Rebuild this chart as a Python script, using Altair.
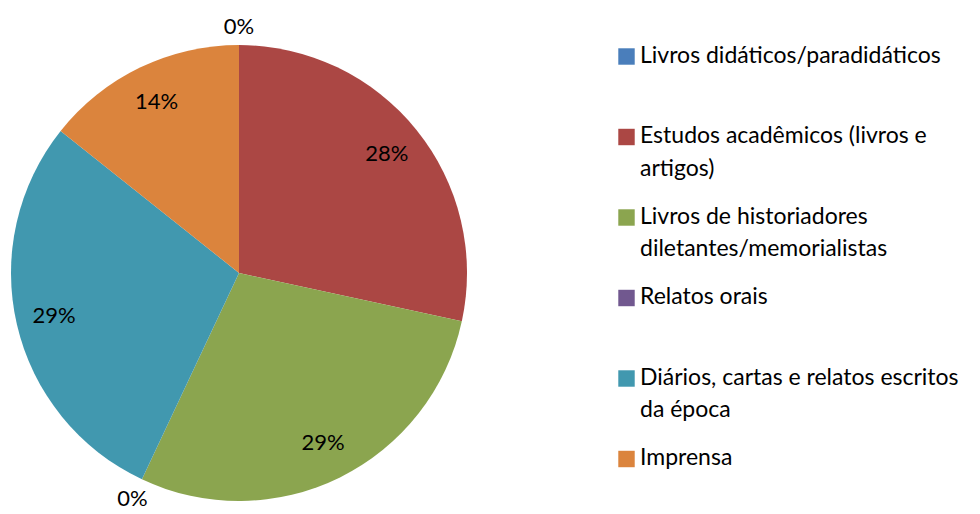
import math
import altair as alt
import pandas as pd

categories = [
    "Livros didáticos/paradidáticos",
    "Estudos acadêmicos (livros e artigos)",
    "Livros de historiadores diletantes/memorialistas",
    "Relatos orais",
    "Diários, cartas e relatos escritos da época",
    "Imprensa",
]
values = [0, 28.4, 28.6, 0, 28.7, 14.3]
colors = ["#4A7EBB", "#AB4744", "#8BA54F", "#71588F", "#4198AF", "#DB843D"]
legend_lines = [
    ["Livros didáticos/paradidáticos"],
    ["Estudos acadêmicos (livros e", "artigos)"],
    ["Livros de historiadores", "diletantes/memorialistas"],
    ["Relatos orais"],
    ["Diários, cartas e relatos escritos", "da época"],
    ["Imprensa"],
]

FONT = "Lato"
CX, CY, R = 231, 265, 228

df = pd.DataFrame({
    "cat": categories,
    "value": values,
    "order": list(range(len(categories))),
})
df["lbl"] = [f"{round(v):d}%" for v in values]

color_scale = alt.Scale(domain=categories, range=colors)

base = alt.Chart(df).encode(
    theta=alt.Theta("value:Q", stack=True),
    order=alt.Order("order:Q"),
)

pie = base.mark_arc(radius=R, x=CX, y=CY).encode(
    color=alt.Color("cat:N", scale=color_scale, legend=None),
)

lbl_in = base.mark_text(radius=190, x=CX, y=CY, font=FONT, fontSize=22,
                        color="black", baseline="middle", align="center").encode(
    text=alt.condition("datum.value > 0", "lbl:N", alt.value("")),
)

# outside labels for empty slices, positioned by cumulative share
total = sum(values)
theta_scale = alt.Scale(domain=[0, total], range=[0, 2 * math.pi])
outer = alt.Chart(df).transform_window(
    cum="sum(value)", sort=[alt.SortField("order")], frame=[None, 0]
).transform_calculate(
    mid="datum.cum - datum.value / 2"
).transform_filter("datum.value == 0")

lbl_top = outer.transform_filter("datum.mid < 50").mark_text(
    radius=246, x=CX, y=CY, font=FONT, fontSize=22, color="black",
    baseline="middle", align="center",
).encode(theta=alt.Theta("mid:Q", scale=theta_scale), text="lbl:N")
lbl_bot = outer.transform_filter("datum.mid >= 50").mark_text(
    radius=250, x=CX, y=CY, font=FONT, fontSize=22, color="black",
    baseline="middle", align="center",
).encode(theta=alt.Theta("mid:Q", scale=theta_scale), text="lbl:N")

# legend built from the lists
rows = []
marks = []
for i, (cat, lines) in enumerate(zip(categories, legend_lines)):
    y0 = 48.5 + 80.5 * i
    marks.append({"cat": cat, "ypix": y0})
    for j, t in enumerate(lines):
        rows.append({"t": t, "ypix": y0 + 32.5 * j})
leg_txt = pd.DataFrame(rows)
leg_mk = pd.DataFrame(marks)

legend_squares = alt.Chart(leg_mk).mark_square(size=270, opacity=1).encode(
    x=alt.value(618.5),
    y=alt.Y("ypix:Q", scale=None),
    color=alt.Color("cat:N", scale=color_scale, legend=None),
)
legend_text = alt.Chart(leg_txt).mark_text(
    font=FONT, fontSize=23, align="left", baseline="middle", color="black", dy=-1
).encode(
    x=alt.value(632),
    y=alt.Y("ypix:Q", scale=None),
    text="t:N",
)

chart = alt.layer(pie, lbl_in, lbl_top, lbl_bot, legend_squares, legend_text).properties(
    width=964, height=506, padding=0, autosize=alt.AutoSizeParams(type="none"),
).configure_view(stroke=None).resolve_scale(color="shared", theta="independent")

chart.save("out.html", embed_options={"renderer": "svg", "actions": False})
